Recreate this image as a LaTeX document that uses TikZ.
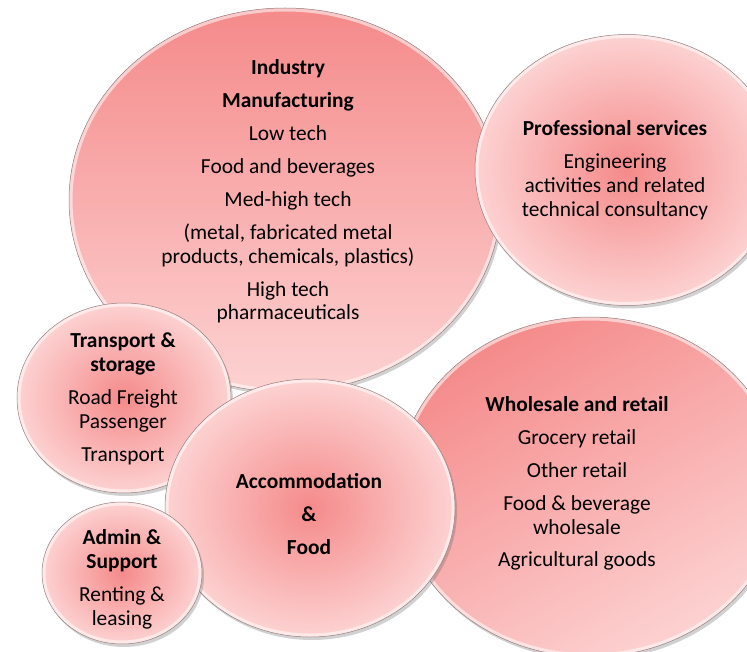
\documentclass[tikz,border=0pt]{standalone}
\usepackage{fontspec}
\setmainfont{Carlito}
\usetikzlibrary{shapes.geometric,shadows,calc}

\definecolor{pinkdeep}{RGB}{245,138,138}
\definecolor{pinkmid}{RGB}{249,172,172}
\definecolor{pinkpale}{RGB}{253,210,210}
\definecolor{rimgray}{RGB}{150,125,125}

\tikzset{
  bubble/.style={ellipse, draw=rimgray, line width=0.5pt, inner sep=0pt, outer sep=0pt,
    drop shadow={shadow xshift=2pt, shadow yshift=-3pt, opacity=0.3, fill=black!60},
    path picture={\draw[white, line width=7bp, opacity=0.55]
      let \p1=(path picture bounding box.north east), \p2=(path picture bounding box.center)
      in (\p2) ellipse ({\x1-\x2} and {\y1-\y2});}},
  bsize/.style 2 args={minimum width=#1bp, minimum height=#2bp},
  flatfill/.style={top color=pinkdeep, bottom color=pinkpale},
  roundfill/.style={inner color=pinkdeep, outer color=pinkpale},
  txt/.style={align=center, inner sep=0pt, font=\fontsize{21.5}{24}\selectfont}
}

\begin{document}
\begin{tikzpicture}[x=1bp,y=-1bp]
  \useasboundingbox (0,0) rectangle (747,652);
  \clip (0,0) rectangle (747,652);
  \node[bubble, bsize={384}{340}, flatfill, shading angle=30] (whole) at (590,487) {};
  \node[bubble, bsize={432}{384}, flatfill] (ind) at (285,200) {};
  \node[bubble, bsize={304}{271}, roundfill] (prof) at (627,170) {};
  \node[bubble, bsize={214}{190}, roundfill] (trans) at (124,398) {};
  \node[bubble, bsize={290}{258}, roundfill] (acc) at (310,508) {};
  \node[bubble, bsize={160}{142}, roundfill] (adm) at (122,573) {};

  \node[txt] (indT) at (288,191.5) {\textbf{Industry}\\[9bp] \textbf{Manufacturing}\\[9bp]
    Low tech\\[9bp] Food and beverages\\[9bp] Med-high tech\\[9bp]
    (metal, fabricated metal\\ products, chemicals, plastics)\\[9bp]
    High tech\\ pharmaceuticals};
  \node[txt] (profT) at (615,170.5) {\textbf{Professional services}\\[9bp]
    Engineering\\ activities and related\\ technical consultancy};
  \node[txt] (transT) at (123,399) {\textbf{Transport \&}\\ \textbf{storage}\\[9bp]
    Road Freight\\ Passenger\\[9bp] Transport};
  \node[txt] (accT) at (309,514) {\textbf{Accommodation}\\[9bp] \textbf{\&}\\[9bp] \textbf{Food}};
  \node[txt] (admT) at (122,579) {\textbf{Admin \&}\\ \textbf{Support}\\[9bp]
    Renting \&\\ leasing};
  \node[txt] (wholeT) at (577,483.5) {\textbf{Wholesale and retail}\\[9bp]
    Grocery retail\\[9bp] Other retail\\[9bp] Food \& beverage\\ wholesale\\[9bp]
    Agricultural goods};
\end{tikzpicture}
\end{document}
